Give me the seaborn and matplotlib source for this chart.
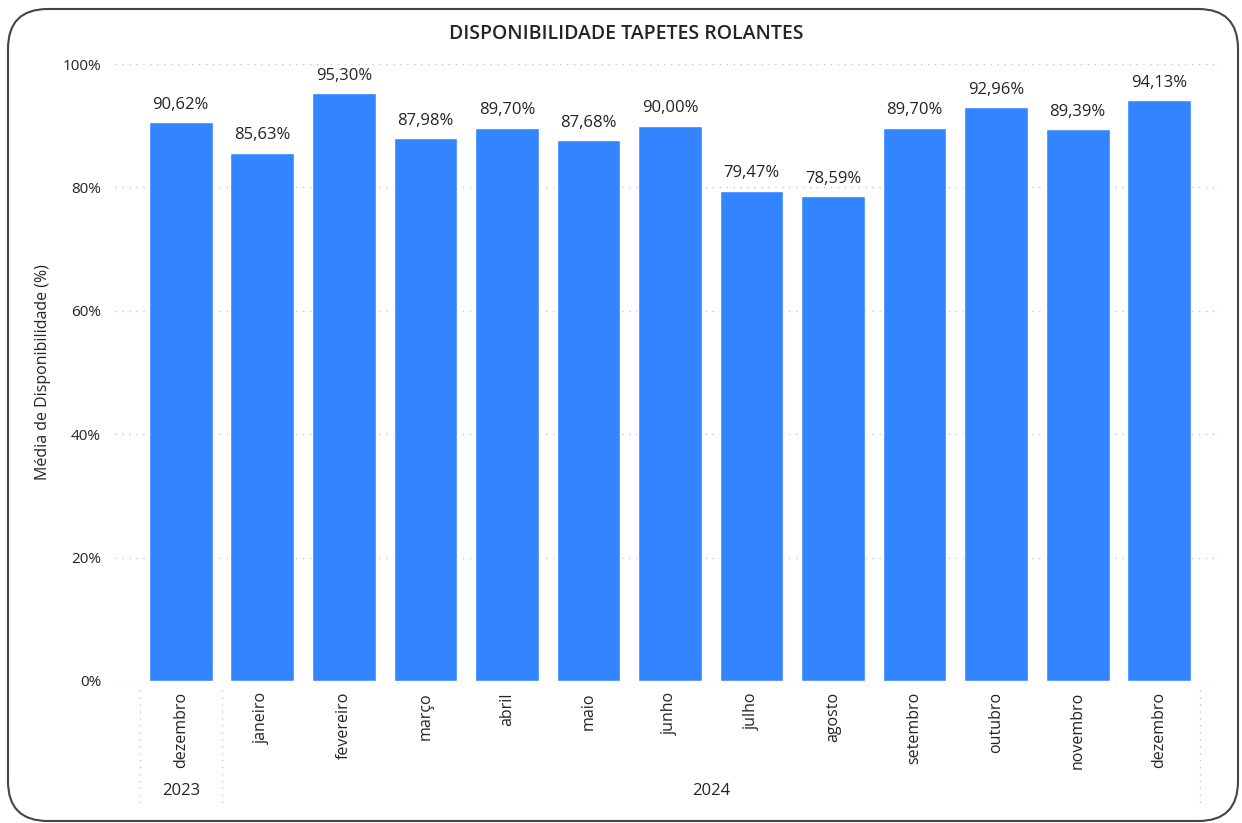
import pandas as pd
import seaborn as sns
import matplotlib.pyplot as plt
from matplotlib.patches import FancyBboxPatch

meses = ["dezembro", "janeiro", "fevereiro", "março", "abril", "maio", "junho",
         "julho", "agosto", "setembro", "outubro", "novembro", "dezembro"]
anos = ["2023"] + ["2024"] * 12
disponibilidade = [90.62, 85.63, 95.30, 87.98, 89.70, 87.68, 90.00,
                   79.47, 78.59, 89.70, 92.96, 89.39, 94.13]
y_ticks = [0, 20, 40, 60, 80, 100]

df = pd.DataFrame({"mes": meses, "ano": anos, "disp": disponibilidade})
df["chave"] = df["mes"] + " " + df["ano"]

sns.set_theme(style="white")
plt.rcParams["font.family"] = ["Open Sans", "DejaVu Sans"]

fig = plt.figure(figsize=(12.42, 8.23), dpi=100)
ax = fig.add_axes([115 / 1242, 1 - 681 / 823, 1105 / 1242, 617 / 823])

# dotted grid drawn first so bars sit on top
for t in y_ticks:
    ax.axhline(t, color="#c8c8c8", linestyle=(0, (1, 4)), linewidth=1, zorder=0)

sns.barplot(data=df, x="chave", y="disp", color="#3385FF", width=0.78,
            saturation=1, ax=ax, zorder=2)

for i, v in enumerate(df["disp"]):
    ax.text(i, v + 1.5, f"{v:.2f}%".replace(".", ","), ha="center", va="bottom",
            fontsize=12, color="#252423", clip_on=False)

n = len(df)
ax.set_xlim(-0.5 - 25 / 81.6, n - 0.5 + 20 / 81.6)
ax.set_ylim(0, 100)
ax.set_yticks(y_ticks)
ax.set_yticklabels([f"{t}%" for t in y_ticks], fontsize=11, color="#252423")
ax.tick_params(axis="y", length=0, pad=10)
ax.set_xticks(range(n))
ax.set_xticklabels(df["mes"], rotation=90, fontsize=11.5, color="#252423", va="top")
ax.tick_params(axis="x", length=0, pad=8)
ax.set_xlabel("")
ax.set_ylabel("Média de Disponibilidade (%)", fontsize=11.5, color="#252423")
ax.yaxis.set_label_coords(-64 / 1105, 0.5)
sns.despine(ax=ax, left=True, bottom=True, top=True, right=True)

# year group separators and labels under the axis
for xs in [-0.5, 0.5, n - 0.5]:
    ax.plot([xs, xs], [-1.5, -20], color="#c8c8c8", linestyle=(0, (1, 4)),
            linewidth=1, clip_on=False, zorder=0)
for ano, grp in df.groupby("ano"):
    centro = (grp.index.min() + grp.index.max()) / 2
    ax.text(centro, -17.8, ano, ha="center", va="center", fontsize=12,
            color="#252423", clip_on=False)

fig.text(626 / 1242, 1 - 34 / 823, "DISPONIBILIDADE TAPETES ROLANTES", ha="center",
         va="center", fontsize=14, fontweight="semibold", color="#252423")

frame = FancyBboxPatch((8 / 1242, 2 / 823), 1230 / 1242, 812 / 823,
                       boxstyle="round,pad=0,rounding_size=0.032",
                       transform=fig.transFigure, facecolor="none",
                       edgecolor="#444444", linewidth=1.5, mutation_aspect=1242 / 823)
fig.patches.append(frame)

fig.savefig("out.png", dpi=100)
